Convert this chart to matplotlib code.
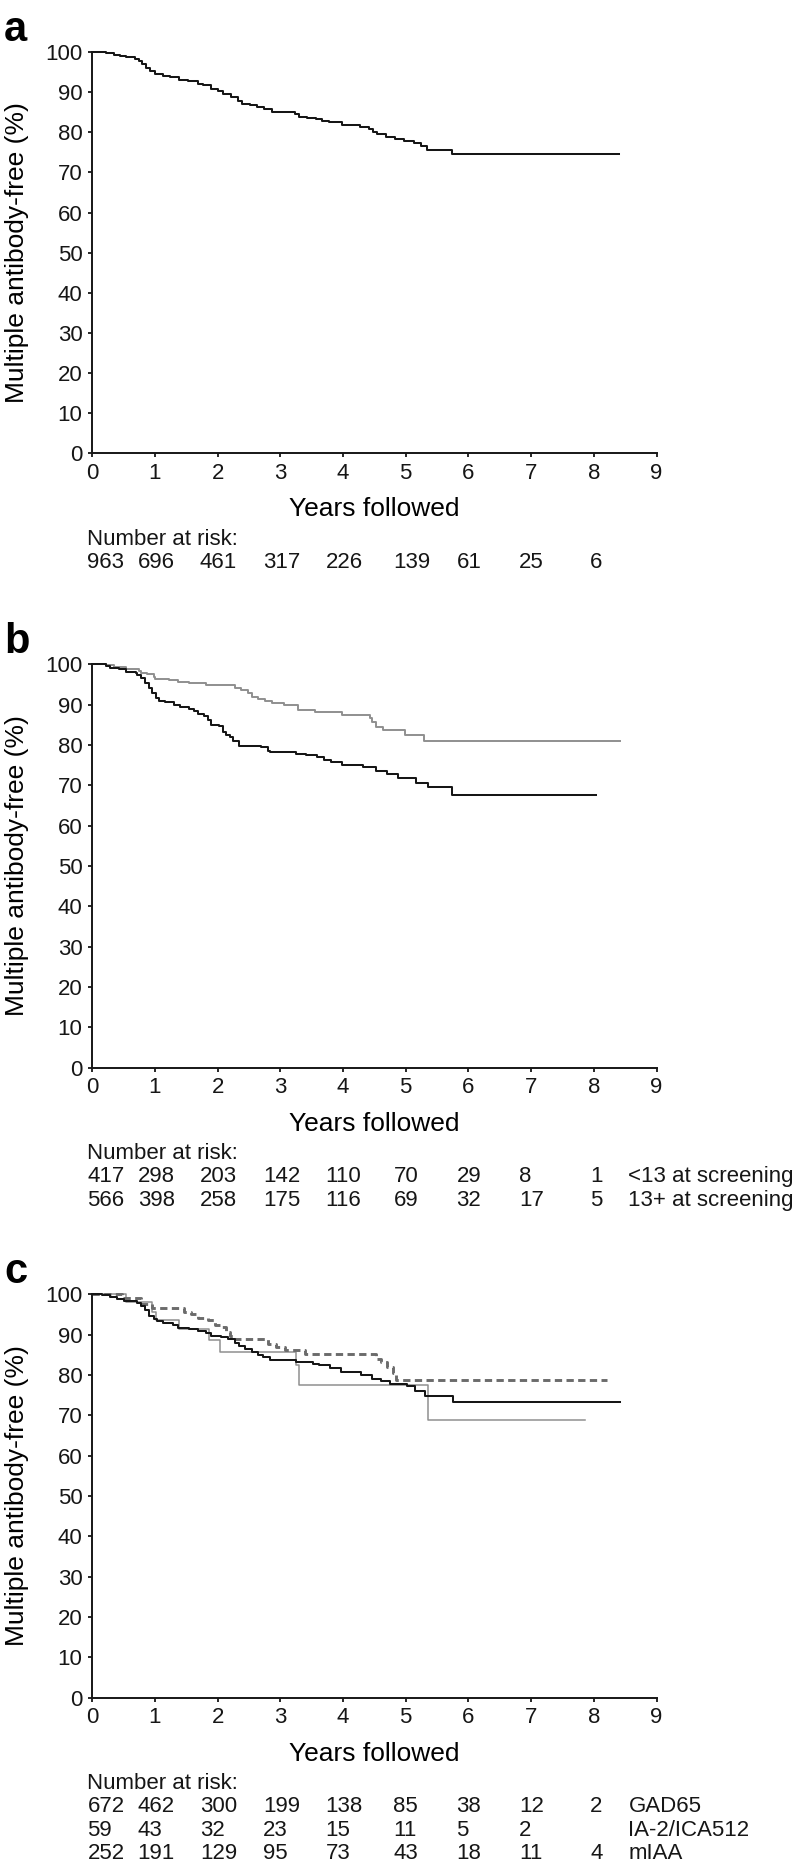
import matplotlib.pyplot as plt
from matplotlib import transforms

plt.rcParams['font.family'] = ['Liberation Sans', 'DejaVu Sans']

# Panel a: whole cohort (event times in years, survival in %)
a_t = [0, 0.22, 0.35, 0.44, 0.53, 0.68, 0.74, 0.80, 0.86, 0.92, 1.00, 1.12, 1.24,
       1.39, 1.53, 1.68, 1.77, 1.89, 2.00, 2.09, 2.21, 2.33, 2.39, 2.51, 2.62, 2.74,
       2.86, 3.24, 3.30, 3.42, 3.57, 3.66, 3.77, 3.98, 4.27, 4.42, 4.48, 4.54, 4.69,
       4.83, 4.98, 5.13, 5.25, 5.34, 5.74, 8.40]
a_s = [100, 99.7, 99.3, 99.1, 98.7, 98.3, 97.7, 96.9, 95.9, 95.3, 94.5, 94.1, 93.8,
       93.1, 92.7, 92.1, 91.7, 90.7, 90.3, 89.5, 88.8, 87.8, 87.1, 86.7, 86.3, 85.8,
       85.0, 84.5, 83.9, 83.6, 83.2, 82.9, 82.5, 81.7, 81.3, 80.9, 80.1, 79.5, 78.7,
       78.3, 77.8, 77.2, 76.6, 75.6, 74.7, 74.7]

# Panel b: by age at screening
b_gray_t = [0, 0.22, 0.34, 0.54, 0.75, 0.78, 0.87, 0.98, 1.00, 1.22, 1.37, 1.54, 1.81,
            2.28, 2.37, 2.49, 2.55, 2.64, 2.75, 2.87, 3.05, 3.28, 3.55, 3.99, 4.43,
            4.46, 4.52, 4.64, 4.99, 5.29, 8.41]
b_gray_s = [100, 99.8, 99.4, 98.8, 98.4, 97.9, 97.5, 96.8, 96.4, 96.0, 95.5, 95.3, 94.9,
            94.1, 93.7, 92.8, 91.8, 91.3, 91.0, 90.4, 89.8, 88.7, 88.1, 87.5, 86.6,
            85.7, 84.4, 83.6, 82.5, 80.9, 80.9]
b_black_t = [0, 0.22, 0.28, 0.42, 0.54, 0.69, 0.72, 0.78, 0.84, 0.90, 0.96, 1.01, 1.07,
             1.16, 1.31, 1.40, 1.54, 1.63, 1.69, 1.78, 1.84, 1.90, 2.02, 2.08, 2.13,
             2.19, 2.25, 2.34, 2.69, 2.81, 2.84, 3.25, 3.41, 3.58, 3.70, 3.81, 3.99,
             4.32, 4.52, 4.70, 4.88, 5.17, 5.35, 5.73, 8.03]
b_black_s = [100, 99.6, 99.0, 98.8, 98.2, 97.9, 97.4, 96.5, 95.3, 94.1, 93.0, 91.6, 91.0,
             90.6, 89.9, 89.3, 89.0, 88.3, 87.7, 87.2, 86.2, 85.0, 84.6, 83.3, 82.4,
             81.9, 81.0, 79.8, 79.5, 78.4, 78.2, 77.8, 77.4, 77.0, 76.3, 75.9, 75.1,
             74.5, 73.6, 72.8, 71.8, 70.6, 69.5, 67.6, 67.6]

# Panel c: by first autoantibody
c_gad_t = [0, 0.16, 0.28, 0.40, 0.51, 0.72, 0.78, 0.84, 0.90, 0.98, 1.04, 1.13, 1.28,
           1.37, 1.54, 1.69, 1.81, 1.90, 2.05, 2.16, 2.28, 2.34, 2.43, 2.55, 2.64, 2.72,
           2.84, 3.25, 3.52, 3.61, 3.79, 3.96, 4.29, 4.46, 4.60, 4.75, 5.02, 5.14, 5.30,
           5.75, 8.41]
c_gad_s = [100, 99.75, 99.3, 98.8, 98.3, 97.9, 97.0, 96.0, 94.5, 94.0, 93.4, 92.9, 92.5,
           91.7, 91.4, 90.9, 90.4, 89.6, 89.3, 88.8, 88.0, 87.3, 86.5, 85.7, 84.9, 84.5,
           83.8, 83.2, 82.8, 82.4, 81.8, 80.7, 79.9, 79.1, 78.5, 77.8, 77.2, 76.1, 74.8,
           73.4, 73.4]
c_ia2_t = [0, 0.54, 0.96, 1.01, 1.39, 1.86, 2.03, 3.25, 3.29, 5.35, 7.86]
c_ia2_s = [100, 98.0, 95.7, 93.6, 91.3, 88.6, 85.8, 82.5, 77.4, 68.8, 68.8]
c_iaa_t = [0, 0.48, 0.78, 0.95, 1.46, 1.57, 1.69, 1.84, 1.96, 2.05, 2.13, 2.19, 2.28,
           2.81, 2.93, 3.08, 3.40, 4.52, 4.61, 4.70, 4.79, 4.85, 8.21]
c_iaa_s = [100, 99.2, 97.5, 96.7, 95.6, 95.2, 94.2, 93.6, 92.5, 91.9, 90.7, 89.6, 88.8,
           87.8, 86.9, 86.1, 85.1, 84.0, 83.2, 82.0, 80.5, 78.8, 78.8]

# Number at risk tables
risk_a = [['963', '696', '461', '317', '226', '139', '61', '25', '6']]
risk_a_labels = ['']
risk_b = [['417', '298', '203', '142', '110', '70', '29', '8', '1'],
          ['566', '398', '258', '175', '116', '69', '32', '17', '5']]
risk_b_labels = ['<13 at screening', '13+ at screening']
risk_c = [['672', '462', '300', '199', '138', '85', '38', '12', '2'],
          ['59', '43', '32', '23', '15', '11', '5', '2', ''],
          ['252', '191', '129', '95', '73', '43', '18', '11', '4']]
risk_c_labels = ['GAD65', 'IA-2/ICA512', 'mIAA']

col_x = [-0.077, 0.723, 1.718, 2.723, 3.723, 4.803, 5.809, 6.806, 7.94]
label_x = 8.553

W, H = 798, 1866
fig = plt.figure(figsize=(W / 100, H / 100), dpi=100)

left = 92.3 / W
width = 564.2 / W
panels = [('a', 52.0, 453.3), ('b', 664.3, 1067.7), ('c', 1294.3, 1697.7)]

dark = '#161616'
light = '#8f8f8f'
mid = '#6b6b6b'

axes = []
for letter, top, bottom in panels:
    ax = fig.add_axes([left, (H - bottom) / H, width, (bottom - top) / H])
    axes.append(ax)
    ax.set_xlim(0, 9)
    ax.set_ylim(0, 100)
    ax.set_xticks(range(0, 10))
    ax.set_yticks(range(0, 101, 10))
    for side in ['top', 'right']:
        ax.spines[side].set_visible(False)
    for side in ['left', 'bottom']:
        ax.spines[side].set_linewidth(1.4)
        ax.spines[side].set_color(dark)
    ax.tick_params(direction='out', length=3, width=1.3, labelsize=16, pad=4, colors=dark)
    ax.set_ylabel('Multiple antibody-free (%)', fontsize=19)
    ax.yaxis.set_label_coords(-0.112, 0.5)
    ax.set_xlabel('Years followed', fontsize=19)
    hpx = bottom - top
    ax.xaxis.set_label_coords(0.5, -56 / hpx)
    ax.xaxis.label.set_va('center')
    fig.text(4 / W, (H - top + 11) / H, letter, fontsize=30, fontweight='bold',
             ha='left', va='baseline')

ax_a, ax_b, ax_c = axes

ax_a.step(a_t, a_s, where='post', color=dark, lw=1.45, clip_on=False)

ax_b.step(b_gray_t, b_gray_s, where='post', color=light, lw=1.4, clip_on=False)
ax_b.step(b_black_t, b_black_s, where='post', color=dark, lw=1.45, clip_on=False)

ax_c.step(c_ia2_t, c_ia2_s, where='post', color=light, lw=1.1, clip_on=False)
ax_c.step(c_iaa_t, c_iaa_s, where='post', color=mid, lw=2.1, ls=(0, (2.5, 1.5)),
          clip_on=False)
ax_c.step(c_gad_t, c_gad_s, where='post', color=dark, lw=1.45, clip_on=False)


def risk_table(ax, rows, labels, hpx):
    tr = transforms.blended_transform_factory(ax.transData, ax.transAxes)
    ax.text(col_x[0], -86 / hpx, 'Number at risk:', transform=tr, fontsize=16,
            ha='left', va='center', color=dark)
    for i, row in enumerate(rows):
        y = -(109 + 23.5 * i) / hpx
        for x, val in zip(col_x, row):
            ax.text(x, y, val, transform=tr, fontsize=16, ha='left', va='center',
                    color=dark)
        if labels[i]:
            ax.text(label_x, y, labels[i], transform=tr, fontsize=16, ha='left',
                    va='center', color=dark)


risk_table(ax_a, risk_a, risk_a_labels, 453.3 - 52.0)
risk_table(ax_b, risk_b, risk_b_labels, 1067.7 - 664.3)
risk_table(ax_c, risk_c, risk_c_labels, 1697.7 - 1294.3)

fig.savefig('out.png', dpi=100)
